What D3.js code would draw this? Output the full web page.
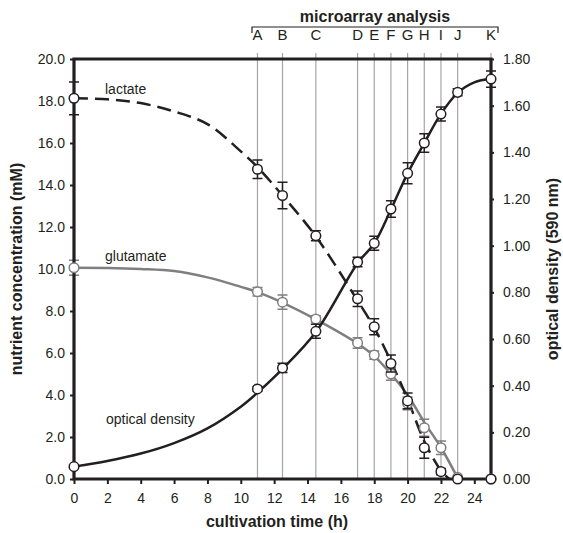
<!DOCTYPE html>
<html>
<head>
<meta charset="utf-8">
<script src="https://cdn.jsdelivr.net/npm/d3@7"></script>
<style>
  body { margin: 0; background: #fff; }
  svg { font-family: "Liberation Sans", Arial, sans-serif; }
</style>
</head>
<body>
<div id="chart"></div>
<script>
// sampling times (h) and measured values
var times = [0, 11, 12.5, 14.5, 17, 18, 19, 20, 21, 22, 23, 25];
var lactate    = [18.13, 14.75, 13.5, 11.58, 8.58, 7.25, 5.5, 3.72, 1.49, 0.35, 0, 0];
var lactateErr = [0.78, 0.44, 0.63, 0.24, 0.37, 0.38, 0.4, 0.37, 0.5, 0.15, 0, 0];
var glutamate    = [10.06, 8.92, 8.42, 7.62, 6.48, 5.9, 5.0, 3.6, 2.44, 1.49, 0.08, 0];
var glutamateErr = [0.36, 0.2, 0.34, 0.15, 0.25, 0.2, 0.3, 0.3, 0.4, 0.32, 0, 0];
var od    = [0.053, 0.386, 0.476, 0.633, 0.93, 1.01, 1.157, 1.31, 1.44, 1.564, 1.657, 1.714];
var odErr = [0, 0.01, 0.02, 0.03, 0.02, 0.03, 0.035, 0.045, 0.04, 0.03, 0.015, 0.035];

// fitted curves
var lactateFitT = [0, 2, 4, 6, 8, 10, 11, 12.5, 14.5, 17, 18, 19, 20, 21, 22, 22.5];
var lactateFit  = [18.13, 18.08, 17.9, 17.5, 16.9, 15.6, 14.85, 13.5, 11.55, 8.5, 7.2, 5.6, 3.8, 1.8, 0.4, 0];
var glutamateFitT = [0, 2, 4, 6, 8, 10, 11, 12.5, 14.5, 17, 18, 19, 20, 21, 22, 23];
var glutamateFit  = [10.06, 10.05, 10.0, 9.9, 9.6, 9.15, 8.9, 8.4, 7.6, 6.45, 5.85, 5.0, 4.0, 2.7, 1.5, 0.05];
var odFitT = [0, 2, 4, 6, 8, 10, 11, 12.5, 14.5, 17, 18, 19, 20, 21, 22, 23, 24, 25];
var odFit  = [0.053, 0.077, 0.109, 0.154, 0.217, 0.31, 0.37, 0.472, 0.63, 0.925, 1.01, 1.155, 1.31, 1.44, 1.565, 1.655, 1.70, 1.715];

// microarray sampling points
var arrayLabels = ["A", "B", "C", "D", "E", "F", "G", "H", "I", "J", "K"];
var arrayTimes  = [11, 12.5, 14.5, 17, 18, 19, 20, 21, 22, 23, 25];

var xTicks = [0, 2, 4, 6, 8, 10, 12, 14, 16, 18, 20, 22, 24];
var yLeftTicks = [0, 2, 4, 6, 8, 10, 12, 14, 16, 18, 20];
var yRightTicks = [0, 0.2, 0.4, 0.6, 0.8, 1.0, 1.2, 1.4, 1.6, 1.8];

var W = 563, H = 533;
var ink = "#231f20", grey = "#7f7f7f";

var svg = d3.select("#chart").append("svg")
    .attr("width", W).attr("height", H);

var x = d3.scaleLinear().domain([0, 25]).range([74, 491]);
var yL = d3.scaleLinear().domain([0, 20]).range([479, 59]);
var yR = d3.scaleLinear().domain([0, 1.8]).range([479, 59]);

// vertical lines at microarray samples
svg.append("g").selectAll("line")
    .data(arrayTimes.slice(0, 10))
    .enter().append("line")
    .attr("x1", function (d) { return x(d); })
    .attr("x2", function (d) { return x(d); })
    .attr("y1", 53).attr("y2", 479)
    .attr("stroke", "#a6a6a6").attr("stroke-width", 1.2);
svg.append("line")
    .attr("x1", x(25)).attr("x2", x(25)).attr("y1", 53).attr("y2", 59)
    .attr("stroke", "#a6a6a6").attr("stroke-width", 1.2);

// microarray bracket and letters
svg.append("path")
    .attr("d", "M252,33V27H498V33")
    .attr("fill", "none").attr("stroke", ink).attr("stroke-width", 1.2);
svg.append("text")
    .attr("x", 375).attr("y", 22)
    .attr("text-anchor", "middle")
    .attr("font-size", 16).attr("font-weight", "bold").attr("fill", ink)
    .text("microarray analysis");
svg.append("g").selectAll("text")
    .data(arrayLabels)
    .enter().append("text")
    .attr("x", function (d, i) { return x(arrayTimes[i]); })
    .attr("y", 40)
    .attr("text-anchor", "middle")
    .attr("font-size", 15).attr("fill", ink)
    .text(function (d) { return d; });

// curves
function curvePath(ts, vs, scale) {
    return d3.line()
        .x(function (d, i) { return x(ts[i]); })
        .y(function (d) { return scale(d); })
        .curve(d3.curveCatmullRom.alpha(0.5))(vs);
}
svg.append("path")
    .attr("d", curvePath(glutamateFitT, glutamateFit, yL))
    .attr("fill", "none").attr("stroke", grey).attr("stroke-width", 2.5);
svg.append("path")
    .attr("d", curvePath(odFitT, odFit, yR))
    .attr("fill", "none").attr("stroke", ink).attr("stroke-width", 2.5);
svg.append("path")
    .attr("d", curvePath(lactateFitT, lactateFit, yL))
    .attr("fill", "none").attr("stroke", ink).attr("stroke-width", 2.5)
    .attr("stroke-dasharray", "14,7");

// error bars and markers
function drawSeries(vals, errs, scale, color) {
    var g = svg.append("g");
    vals.forEach(function (v, i) {
        var e = errs[i], cx = x(times[i]);
        if (e > 0) {
            var y1 = scale(v + e), y2 = scale(v - e);
            g.append("path")
                .attr("d", "M" + cx + "," + y1 + "V" + y2 +
                    "M" + (cx - 5) + "," + y1 + "H" + (cx + 5) +
                    "M" + (cx - 5) + "," + y2 + "H" + (cx + 5))
                .attr("fill", "none").attr("stroke", color).attr("stroke-width", 1.5);
        }
    });
    g.selectAll("circle")
        .data(vals)
        .enter().append("circle")
        .attr("cx", function (d, i) { return x(times[i]); })
        .attr("cy", function (d) { return scale(d); })
        .attr("r", 4.8)
        .attr("fill", "#fff").attr("stroke", color).attr("stroke-width", 1.5);
}
drawSeries(glutamate, glutamateErr, yL, grey);
drawSeries(od, odErr, yR, ink);
drawSeries(lactate, lactateErr, yL, ink);

// axes
var gx = svg.append("g")
    .attr("transform", "translate(0,479)")
    .call(d3.axisBottom(x).tickValues(xTicks).tickSize(5).tickPadding(9));
var gl = svg.append("g")
    .attr("transform", "translate(74,0)")
    .call(d3.axisLeft(yL).tickValues(yLeftTicks).tickSize(4).tickPadding(5)
        .tickFormat(d3.format(".1f")));
var gr = svg.append("g")
    .attr("transform", "translate(491,0)")
    .call(d3.axisRight(yR).tickValues(yRightTicks).tickSize(3).tickPadding(9)
        .tickFormat(d3.format(".2f")));
[gx, gl, gr].forEach(function (g) {
    g.select(".domain").remove();
    g.selectAll(".tick line").attr("stroke", ink).attr("stroke-width", 2);
    g.selectAll(".tick text").attr("fill", ink)
        .attr("font-size", 14).attr("font-family", "Liberation Sans, Arial, sans-serif");
});

// frame
svg.append("path")
    .attr("d", "M" + x(0) + "," + yL(0) + "V" + yL(20) + "H" + x(25) + "V" + yL(0) + "Z")
    .attr("fill", "none").attr("stroke", ink).attr("stroke-width", 3.2);

// keep markers that sit on the frame above it
svg.selectAll("g circle").filter(function () {
    var cx = +this.getAttribute("cx"), cy = +this.getAttribute("cy");
    return cx <= 75 || cx >= 490 || cy >= 478;
}).each(function () { svg.node().appendChild(this); });

// series labels
svg.append("text").attr("x", 105).attr("y", 94)
    .attr("font-size", 14).attr("fill", ink).text("lactate");
svg.append("text").attr("x", 105).attr("y", 261)
    .attr("font-size", 14).attr("fill", ink).text("glutamate");
svg.append("text").attr("x", 106).attr("y", 424)
    .attr("font-size", 14).attr("fill", ink).text("optical density");

// axis titles
svg.append("text")
    .attr("x", 277).attr("y", 527)
    .attr("text-anchor", "middle")
    .attr("font-size", 16).attr("font-weight", "bold").attr("fill", ink)
    .text("cultivation time (h)");
svg.append("text")
    .attr("transform", "translate(22,269) rotate(-90)")
    .attr("text-anchor", "middle")
    .attr("font-size", 16).attr("font-weight", "bold").attr("fill", ink)
    .text("nutrient concentration (mM)");
svg.append("text")
    .attr("transform", "translate(558,269) rotate(-90)")
    .attr("text-anchor", "middle")
    .attr("font-size", 16).attr("font-weight", "bold").attr("fill", ink)
    .text("optical density (590 nm)");
</script>
</body>
</html>
